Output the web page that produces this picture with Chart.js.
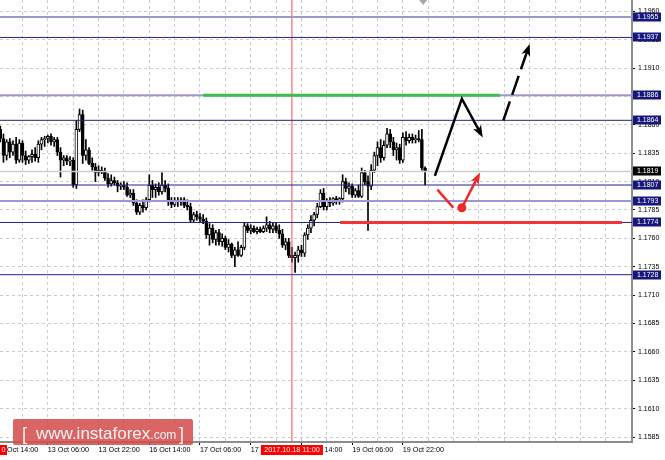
<!DOCTYPE html>
<html>
<head>
<meta charset="utf-8">
<script src="https://cdn.jsdelivr.net/npm/chart.js@4.4.1/dist/chart.umd.min.js"></script>
<style>
  body { margin: 0; background: #fff; }
  canvas { display: block; }
</style>
</head>
<body>
<canvas id="chart" width="665" height="460"></canvas>
<script>
// EURUSD H1, bar 1 = 12 Oct 15:00 ... bar 135 = 20 Oct 05:00
const open = [
  1.1856, 1.1848, 1.1833, 1.1845, 1.1836, 1.1843, 1.1829, 1.1844, 1.1833, 1.1829,
  1.1832, 1.1834, 1.1831, 1.1843, 1.1847, 1.1848, 1.1850, 1.1845, 1.1847, 1.1836,
  1.1829, 1.1831, 1.1828, 1.1829, 1.1807, 1.1856, 1.1869, 1.1833, 1.1838, 1.1826,
  1.1823, 1.1818, 1.1820, 1.1819, 1.1813, 1.1808, 1.1811, 1.1809, 1.1806, 1.1807,
  1.1805, 1.1798, 1.1800, 1.1791, 1.1783, 1.1789, 1.1787, 1.1794, 1.1807, 1.1803,
  1.1805, 1.1801, 1.1807, 1.1804, 1.1792, 1.1790, 1.1793, 1.1792, 1.1794, 1.1789,
  1.1788, 1.1776, 1.1781, 1.1779, 1.1777, 1.1775, 1.1763, 1.1769, 1.1759, 1.1765,
  1.1757, 1.1760, 1.1752, 1.1755, 1.1745, 1.1750, 1.1745, 1.1752, 1.1771, 1.1767,
  1.1769, 1.1766, 1.1768, 1.1766, 1.1769, 1.1772, 1.1768, 1.1771, 1.1767, 1.1764,
  1.1754, 1.1757, 1.1745, 1.1743, 1.1745, 1.1750, 1.1747, 1.1763, 1.1769, 1.1776,
  1.1781, 1.1788, 1.1800, 1.1788, 1.1793, 1.1791, 1.1795, 1.1792, 1.1795, 1.1810,
  1.1804, 1.1806, 1.1798, 1.1802, 1.1797, 1.1818, 1.1810, 1.1806, 1.1820, 1.1833,
  1.1840, 1.1831, 1.1842, 1.1852, 1.1845, 1.1838, 1.1840, 1.1829, 1.1849, 1.1846,
  1.1849, 1.1847, 1.1848, 1.1847, 1.1822
];
const high = [
  1.1859, 1.1852, 1.1847, 1.1848, 1.1846, 1.1849, 1.1847, 1.1846, 1.1837, 1.1833,
  1.1838, 1.1840, 1.1846, 1.1849, 1.1850, 1.1851, 1.1852, 1.1849, 1.1849, 1.1840,
  1.1833, 1.1833, 1.1832, 1.1831, 1.1864, 1.1874, 1.1873, 1.1847, 1.1840, 1.1831,
  1.1826, 1.1824, 1.1823, 1.1822, 1.1817, 1.1816, 1.1814, 1.1811, 1.1809, 1.1810,
  1.1809, 1.1803, 1.1803, 1.1794, 1.1791, 1.1794, 1.1796, 1.1816, 1.1811, 1.1808,
  1.1809, 1.1818, 1.1811, 1.1808, 1.1796, 1.1796, 1.1796, 1.1796, 1.1796, 1.1794,
  1.1791, 1.1783, 1.1784, 1.1782, 1.1781, 1.1778, 1.1773, 1.1772, 1.1767, 1.1768,
  1.1764, 1.1762, 1.1759, 1.1756, 1.1752, 1.1757, 1.1754, 1.1774, 1.1773, 1.1772,
  1.1771, 1.1770, 1.1770, 1.1771, 1.1779, 1.1775, 1.1774, 1.1774, 1.1772, 1.1768,
  1.1760, 1.1760, 1.1752, 1.1748, 1.1753, 1.1754, 1.1765, 1.1772, 1.1780, 1.1783,
  1.1791, 1.1803, 1.1804, 1.1795, 1.1796, 1.1796, 1.1797, 1.1796, 1.1816, 1.1813,
  1.1809, 1.1808, 1.1804, 1.1807, 1.1822, 1.1820, 1.1815, 1.1825, 1.1836, 1.1845,
  1.1847, 1.1846, 1.1857, 1.1856, 1.1849, 1.1844, 1.1843, 1.1853, 1.1854, 1.1852,
  1.1852, 1.1851, 1.1855, 1.1856, 1.1823
];
const low = [
  1.1845, 1.1827, 1.1829, 1.1831, 1.1833, 1.1826, 1.1827, 1.1827, 1.1825, 1.1826,
  1.1827, 1.1828, 1.1827, 1.1838, 1.1841, 1.1844, 1.1842, 1.1841, 1.1833, 1.1814,
  1.1824, 1.1825, 1.1824, 1.1805, 1.1804, 1.1854, 1.1826, 1.1829, 1.1825, 1.1820,
  1.1810, 1.1815, 1.1817, 1.1811, 1.1805, 1.1806, 1.1807, 1.1801, 1.1803, 1.1803,
  1.1797, 1.1796, 1.1789, 1.1781, 1.1781, 1.1783, 1.1785, 1.1792, 1.1796, 1.1796,
  1.1798, 1.1799, 1.1801, 1.1789, 1.1787, 1.1788, 1.1788, 1.1789, 1.1787, 1.1785,
  1.1774, 1.1774, 1.1776, 1.1774, 1.1773, 1.1760, 1.1754, 1.1756, 1.1754, 1.1754,
  1.1753, 1.1750, 1.1748, 1.1743, 1.1735, 1.1744, 1.1744, 1.1750, 1.1765, 1.1764,
  1.1765, 1.1764, 1.1765, 1.1765, 1.1766, 1.1765, 1.1765, 1.1765, 1.1760, 1.1752,
  1.1750, 1.1743, 1.1739, 1.1730, 1.1739, 1.1744, 1.1744, 1.1759, 1.1765, 1.1771,
  1.1778, 1.1787, 1.1785, 1.1785, 1.1788, 1.1789, 1.1790, 1.1790, 1.1792, 1.1801,
  1.1799, 1.1796, 1.1796, 1.1796, 1.1796, 1.1807, 1.1767, 1.1803, 1.1818, 1.1824,
  1.1827, 1.1829, 1.1840, 1.1840, 1.1833, 1.1829, 1.1826, 1.1827, 1.1842, 1.1844,
  1.1844, 1.1844, 1.1845, 1.1820, 1.1807
];
const close = [
  1.1848, 1.1833, 1.1845, 1.1836, 1.1843, 1.1829, 1.1844, 1.1833, 1.1829, 1.1832,
  1.1834, 1.1831, 1.1843, 1.1847, 1.1848, 1.1850, 1.1845, 1.1847, 1.1836, 1.1829,
  1.1831, 1.1828, 1.1829, 1.1807, 1.1856, 1.1869, 1.1833, 1.1838, 1.1826, 1.1823,
  1.1818, 1.1820, 1.1819, 1.1813, 1.1808, 1.1811, 1.1809, 1.1806, 1.1807, 1.1805,
  1.1798, 1.1800, 1.1791, 1.1783, 1.1789, 1.1787, 1.1794, 1.1807, 1.1803, 1.1805,
  1.1801, 1.1807, 1.1804, 1.1792, 1.1790, 1.1793, 1.1792, 1.1794, 1.1789, 1.1788,
  1.1776, 1.1781, 1.1779, 1.1777, 1.1775, 1.1763, 1.1769, 1.1759, 1.1765, 1.1757,
  1.1760, 1.1752, 1.1755, 1.1745, 1.1750, 1.1745, 1.1752, 1.1771, 1.1767, 1.1769,
  1.1766, 1.1768, 1.1766, 1.1769, 1.1772, 1.1768, 1.1771, 1.1767, 1.1764, 1.1754,
  1.1757, 1.1745, 1.1743, 1.1745, 1.1750, 1.1747, 1.1763, 1.1769, 1.1776, 1.1781,
  1.1788, 1.1800, 1.1788, 1.1793, 1.1791, 1.1795, 1.1792, 1.1795, 1.1810, 1.1804,
  1.1806, 1.1798, 1.1802, 1.1797, 1.1818, 1.1810, 1.1806, 1.1820, 1.1833, 1.1840,
  1.1831, 1.1842, 1.1852, 1.1845, 1.1838, 1.1840, 1.1829, 1.1849, 1.1846, 1.1849,
  1.1847, 1.1848, 1.1847, 1.1822, 1.1819
];
const FIRST_BAR = 1;

// axis ticks
const priceTicks = [1.1585, 1.1610, 1.1635, 1.1660, 1.1685, 1.1710, 1.1735, 1.1760,
  1.1785, 1.1810, 1.1835, 1.1860, 1.1885, 1.1910, 1.1935, 1.1960];
const timeGrid = [0, 8, 16, 24, 32, 40, 48, 56, 64, 72, 80, 88, 96, 104, 112, 120,
  128, 136, 144, 152, 160, 168, 176, 184, 192, 200];
const timeLabels = {
  0: "12 Oct 14:00", 16: "13 Oct 06:00", 32: "13 Oct 22:00", 48: "16 Oct 14:00",
  64: "17 Oct 06:00", 80: "17 Oct 22:00", 96: "18 Oct 14:00", 112: "19 Oct 06:00",
  128: "19 Oct 22:00",
};

// horizontal levels, bid, marked bar
const levelPrices = [1.1955, 1.1937, 1.1886, 1.1864, 1.1807, 1.1793, 1.1774, 1.1728];
const lightLevels = [1.1955, 1.1886, 1.1793];
const bidPrice = 1.1819;
const markerBar = 93;          // 2017.10.18 11:00
const markerText = "2017.10.18 11:00";
const shiftBar = 134.4;

// forecast drawings (bar, price)
const greenZone = [{ x: 65, y: 1.1886 }, { x: 158.6, y: 1.1886 }];
const redZone = [{ x: 108.2, y: 1.1774 }, { x: 197.1, y: 1.1774 }];
const blackPath = [{ x: 138.1, y: 1.1815 }, { x: 146.6, y: 1.1883 }, { x: 152.6, y: 1.1852 }];
const dashedPath = [{ x: 159.7, y: 1.1864 }, { x: 167.6, y: 1.1928 }];
const redDrop = [{ x: 138.9, y: 1.1803 }, { x: 143.9, y: 1.1787 }];
const redRise = [{ x: 146.6, y: 1.1787 }, { x: 151.8, y: 1.1815 }];

const xMin = 0.91, xMax = 200.28;
const yMin = 1.15806, yMax = 1.19700;

const FONT = "Liberation Sans";
const NAVY = "#22228e";
const LIGHT = "#9a9ad2";

const bars = open.map((o, i) => ({ x: FIRST_BAR + i, o, h: high[i], l: low[i], c: close[i] }));

function hLine(data, color, width, order) {
  return { type: "line", data, borderColor: color, borderWidth: width, pointRadius: 0, order };
}

const datasets = [
  // arrows on top
  {
    type: "line", data: blackPath, borderColor: "#000", borderWidth: 2.5, pointRadius: 0,
    arrowHead: true, order: 1,
  },
  {
    type: "line", data: dashedPath, borderColor: "#000", borderWidth: 2.5, pointRadius: 0,
    borderDash: [20, 7], arrowHead: true, order: 1,
  },
  { type: "line", data: redDrop, borderColor: "#f02828", borderWidth: 2.5, pointRadius: 0, order: 1 },
  {
    type: "line", data: redRise, borderColor: "#f02828", borderWidth: 2.5,
    pointRadius: [4.5, 0], pointBackgroundColor: "#f02828", pointBorderWidth: 0,
    arrowHead: true, order: 1,
  },
  hLine(greenZone, "#3fbc4c", 3, 2),
  hLine(redZone, "#f23434", 3, 2),
  ...levelPrices.map((p) =>
    hLine([{ x: xMin, y: p }, { x: xMax, y: p }],
      lightLevels.includes(p) ? LIGHT : NAVY,
      lightLevels.includes(p) ? 2 : 1, 3)),
  hLine([{ x: markerBar, y: yMin }, { x: markerBar, y: yMax }], "#ff4a4a", 1, 4),
  hLine([{ x: xMin, y: bidPrice }, { x: xMax, y: bidPrice }], "#cfcfcf", 1.5, 9),
  {
    type: "bar",
    data: bars.map((b) => ({ x: b.x, y: [Math.min(b.o, b.c), Math.max(b.o, b.c)] })),
    backgroundColor: bars.map((b) => (b.c > b.o ? "#fff" : "#000")),
    borderColor: "#000",
    borderWidth: 1,
    borderSkipped: false,
    barThickness: 3,
    minBarLength: 1,
    grouped: false,
    order: 10,
  },
  {
    type: "bar",
    data: bars.map((b) => ({ x: b.x, y: [b.l, b.h] })),
    backgroundColor: "#000",
    barThickness: 1,
    grouped: false,
    order: 11,
  },
];

const arrowHeads = {
  id: "arrowHeads",
  afterDatasetsDraw(chart) {
    const ctx = chart.ctx;
    chart.data.datasets.forEach((ds, i) => {
      if (!ds.arrowHead) return;
      const pts = chart.getDatasetMeta(i).data;
      const a = pts[pts.length - 2], b = pts[pts.length - 1];
      const ang = Math.atan2(b.y - a.y, b.x - a.x);
      const dx = Math.cos(ang), dy = Math.sin(ang);
      const tx = b.x + dx * 4, ty = b.y + dy * 4;
      const len = 12, half = 4.5;
      ctx.save();
      ctx.fillStyle = ds.borderColor;
      ctx.beginPath();
      ctx.moveTo(tx, ty);
      ctx.lineTo(tx - dx * len - dy * half, ty - dy * len + dx * half);
      ctx.lineTo(tx - dx * len * 0.75, ty - dy * len * 0.75);
      ctx.lineTo(tx - dx * len + dy * half, ty - dy * len - dx * half);
      ctx.closePath();
      ctx.fill();
      ctx.restore();
    });
  },
};

const tags = {
  id: "tags",
  afterDraw(chart) {
    const { ctx, chartArea, scales: { x, y } } = chart;
    ctx.save();
    ctx.textBaseline = "middle";
    ctx.font = "7px " + FONT;

    // price tags on the axis
    [...levelPrices, bidPrice].forEach((p) => {
      const py = Math.round(y.getPixelForValue(p));
      ctx.fillStyle = p === bidPrice ? "#000" : "#16167c";
      ctx.fillRect(chartArea.right + 1, py - 4.5, 28, 9);
      ctx.fillStyle = "#fff";
      ctx.fillText(p.toFixed(4), chartArea.right + 5, py + 0.5);
    });

    // shift marker
    const sx = x.getPixelForValue(shiftBar);
    ctx.fillStyle = "#a8a8a8";
    ctx.beginPath();
    ctx.moveTo(sx - 4, chartArea.top);
    ctx.lineTo(sx + 4, chartArea.top);
    ctx.lineTo(sx, chartArea.top + 5);
    ctx.closePath();
    ctx.fill();

    // time tag of the vertical line
    ctx.font = "7.2px " + FONT;
    const mx = x.getPixelForValue(markerBar);
    ctx.fillStyle = "#ff0000";
    ctx.fillRect(mx - 31, chartArea.bottom + 3, 62, 10);
    ctx.fillStyle = "#fff";
    ctx.textAlign = "center";
    ctx.fillText(markerText, mx, chartArea.bottom + 8.5);
    ctx.fillStyle = "#ff0000";
    ctx.fillRect(0, chartArea.bottom + 3, 7, 10);
    ctx.fillStyle = "#fff";
    ctx.fillText("0", 3.5, chartArea.bottom + 8.5);

    // watermark
    ctx.fillStyle = "rgba(212, 76, 76, 0.86)";
    ctx.beginPath();
    ctx.roundRect(13, 419, 180, 26, 2);
    ctx.fill();
    ctx.fillStyle = "rgba(255,255,255,0.93)";
    ctx.textAlign = "left";
    ctx.textBaseline = "alphabetic";
    ctx.font = "18px " + FONT;
    ctx.fillText("[", 22, 440);
    ctx.font = "17px " + FONT;
    ctx.fillText("www.instaforex", 36, 439);
    const w = ctx.measureText("www.instaforex").width;
    ctx.font = "12px " + FONT;
    ctx.fillText(".com", 36 + w, 439);
    ctx.font = "18px " + FONT;
    ctx.fillText("]", 179, 440);
    ctx.restore();
  },
};

new Chart(document.getElementById("chart"), {
  type: "bar",
  data: { datasets },
  options: {
    responsive: false,
    animation: false,
    events: [],
    layout: { padding: 0, autoPadding: false },
    plugins: { legend: { display: false }, tooltip: { enabled: false } },
    scales: {
      x: {
        type: "linear",
        position: "bottom",
        min: xMin,
        max: xMax,
        offset: false,
        afterBuildTicks: (s) => { s.ticks = timeGrid.map((v) => ({ value: v })); },
        afterFit: (s) => { s.height = 18; s.paddingLeft = 0; s.paddingRight = 0; },
        grid: {
          offset: false,
          color: "#cdcdcd",
          borderDash: [3, 3],
          tickLength: 3,
          tickBorderDash: [],
          tickColor: (c) => (c.tick && timeLabels[c.tick.value] ? "#000" : "rgba(0,0,0,0)"),
        },
        border: { display: true, color: "#8c8c8c", width: 2, dash: [3, 3] },
        ticks: {
          autoSkip: false,
          maxRotation: 0,
          minRotation: 0,
          align: "start",
          padding: 1,
          color: "#000",
          font: { family: FONT, size: 7.2 },
          callback: (v) => timeLabels[v] || "",
        },
      },
      y: {
        type: "linear",
        position: "right",
        min: yMin,
        max: yMax,
        afterBuildTicks: (s) => { s.ticks = priceTicks.map((v) => ({ value: v })); },
        afterFit: (s) => { s.width = 33; s.paddingTop = 0; s.paddingBottom = 0; },
        grid: {
          color: "#cdcdcd",
          borderDash: [3, 3],
          tickLength: 3,
          tickBorderDash: [],
          tickColor: "#000",
        },
        border: { display: true, color: "#8c8c8c", width: 2, dash: [3, 3] },
        ticks: {
          padding: 3,
          color: "#000",
          font: { family: FONT, size: 7 },
          callback: (v) => v.toFixed(4),
        },
      },
    },
  },
  plugins: [arrowHeads, tags],
});
</script>
</body>
</html>
